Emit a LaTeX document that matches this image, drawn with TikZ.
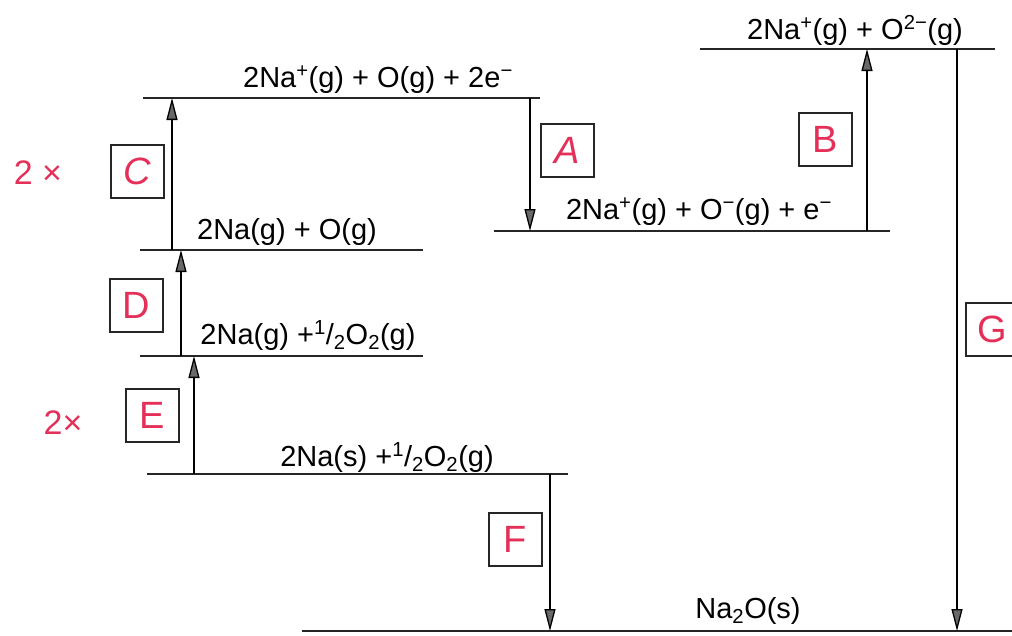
\documentclass[tikz,border=0pt]{standalone}
\usepackage{fontspec}
\setmainfont{Liberation Sans}
\usetikzlibrary{arrows.meta}
\definecolor{hand}{RGB}{228,48,88}
\definecolor{tipgray}{RGB}{105,105,105}
\begin{document}
\begin{tikzpicture}[x=1pt,y=-1pt,
 level/.style={line width=2pt, draw=black!85},
 lab/.style={anchor=base, font=\fontsize{29}{32}\selectfont, inner sep=0pt},
 stepup/.style={line width=1.3pt, -{Triangle[width=11pt,length=22pt,fill=tipgray]}},
 tag/.style={draw=black!85, line width=2pt, minimum width=53pt, minimum height=53pt, inner sep=0pt, text=hand, font=\fontsize{38}{40}\selectfont},
 mult/.style={text=hand, font=\fontsize{34}{40}\selectfont, inner sep=0pt}]
\useasboundingbox (0,0) rectangle (1012,635);
% level end points
\coordinate (l1a) at (700,49);  \coordinate (l1b) at (995,49);
\coordinate (l2a) at (143,98);  \coordinate (l2b) at (540,98);
\coordinate (l3a) at (494,231); \coordinate (l3b) at (890,231);
\coordinate (l4a) at (140,250); \coordinate (l4b) at (423,250);
\coordinate (l5a) at (140,356); \coordinate (l5b) at (423,356);
\coordinate (l6a) at (147,474); \coordinate (l6b) at (568,474);
\coordinate (l7a) at (302,631); \coordinate (l7b) at (1012,631);
\draw[level] (l1a) -- (l1b);
\draw[level] (l2a) -- (l2b);
\draw[level] (l3a) -- (l3b);
\draw[level] (l4a) -- (l4b);
\draw[level] (l5a) -- (l5b);
\draw[level] (l6a) -- (l6b);
\draw[level] (l7a) -- (l7b);
% level labels
\node[lab] (t1) at (855,39) {2Na\textsuperscript{+}(g) + O\textsuperscript{2−}(g)};
\node[lab] (t2) at (378,87) {2Na\textsuperscript{+}(g) + O(g) + 2e\textsuperscript{−}};
\node[lab] (t3) at (699,219) {2Na\textsuperscript{+}(g) + O\textsuperscript{−}(g) + e\textsuperscript{−}};
\node[lab] (t4) at (287,239) {2Na(g) + O(g)};
\node[lab] (t5) at (308,344) {2Na(g) +\textsuperscript{1}/\textsubscript{2}O\textsubscript{2}(g)};
\node[lab] (t6) at (387,466) {2Na(s) +\textsuperscript{1}/\textsubscript{2}O\textsubscript{2}(g)};
\node[lab] (t7) at (748,618) {Na\textsubscript{2}O(s)};
% arrow end points
\coordinate (c0) at (172,250); \coordinate (c1) at (172,98);
\coordinate (d0) at (181,356); \coordinate (d1) at (181,250);
\coordinate (e0) at (194,474); \coordinate (e1) at (194,356);
\coordinate (a0) at (530,98);  \coordinate (a1) at (530,231);
\coordinate (b0) at (867,231); \coordinate (b1) at (867,49);
\coordinate (g0) at (957,49);  \coordinate (g1) at (957,631);
\coordinate (f0) at (550,474); \coordinate (f1) at (550,631);
\draw[stepup] (c0) -- (c1);
\draw[stepup] (d0) -- (d1);
\draw[stepup] (e0) -- (e1);
\draw[stepup] (a0) -- (a1);
\draw[stepup] (b0) -- (b1);
\draw[stepup] (g0) -- (g1);
\draw[stepup] (f0) -- (f1);
% tag boxes
\node[tag] (C) at (137,171) {\itshape C};
\node[tag] (A) at (567,150) {\itshape A};
\node[tag] (B) at (825,139) {B};
\node[tag] (D) at (136,305) {D};
\node[tag] (E) at (152,415) {E};
\node[tag] (F) at (515,539) {F};
\node[tag] (G) at (992,329) {G};
\node[mult] (m1) at (38,173) {2 ×};
\node[mult] (m2) at (63,423) {2×};
\end{tikzpicture}
\end{document}
